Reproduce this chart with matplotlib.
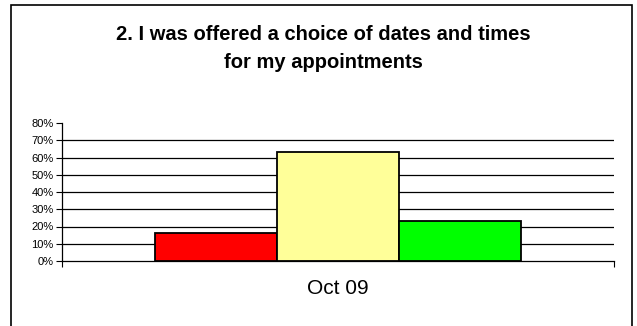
import matplotlib.pyplot as plt
from matplotlib.patches import Rectangle
from matplotlib.ticker import FixedLocator

# survey answers for one period, three response groups
categories = ['Oct 09']
series_names = ['No', 'Sometimes', 'Yes']
series_values = [16, 63, 23]
series_colors = ['#ff0000', '#ffff99', '#00ff00']
y_ticks = [0, 10, 20, 30, 40, 50, 60, 70, 80]
y_tick_labels = ['0%', '10%', '20%', '30%', '40%', '50%', '60%', '70%', '80%']
title = '2. I was offered a choice of dates and times\nfor my appointments'

plt.rcParams['font.family'] = ['Liberation Sans', 'DejaVu Sans']

fig = plt.figure(figsize=(6.37, 3.26), dpi=100)

# outer chart border
fig.patches.append(Rectangle((11 / 637, -0.05), 621 / 637, 1.05 - 5 / 326,
                             transform=fig.transFigure, fill=False,
                             edgecolor='black', linewidth=1.2))

ax = fig.add_axes([62 / 637, 65 / 326, 552 / 637, 138 / 326])

bar_w = 0.221
n = len(series_values)
for i, (name, val, col) in enumerate(zip(series_names, series_values, series_colors)):
    x = (i - (n - 1) / 2) * bar_w
    ax.bar(x, val, width=bar_w, color=col, edgecolor='black', linewidth=1.3,
           label=name, zorder=3)

ax.set_xlim(-0.5, 0.5)
ax.set_ylim(0, 80)
ax.set_yticks(y_ticks)
ax.set_yticklabels(y_tick_labels, fontsize=8)
ax.tick_params(axis='y', length=4, width=0.8, pad=2)
ax.set_xticks([0])
ax.set_xticklabels(categories, fontsize=15)
ax.tick_params(axis='x', length=0, pad=13)
ax.xaxis.set_minor_locator(FixedLocator([-0.5, 0.5]))
ax.tick_params(axis='x', which='minor', length=4, width=0.8)

for y in y_ticks[1:-1]:
    ax.axhline(y, color='black', linewidth=0.9, zorder=1)

for s in ['top', 'right']:
    ax.spines[s].set_visible(False)
ax.spines['left'].set_linewidth(0.9)
ax.spines['bottom'].set_linewidth(0.9)

fig.text(0.508, 0.852, title, ha='center', va='center', fontsize=14.5,
         fontweight='bold', linespacing=1.6)

fig.savefig('out.png', dpi=100)
